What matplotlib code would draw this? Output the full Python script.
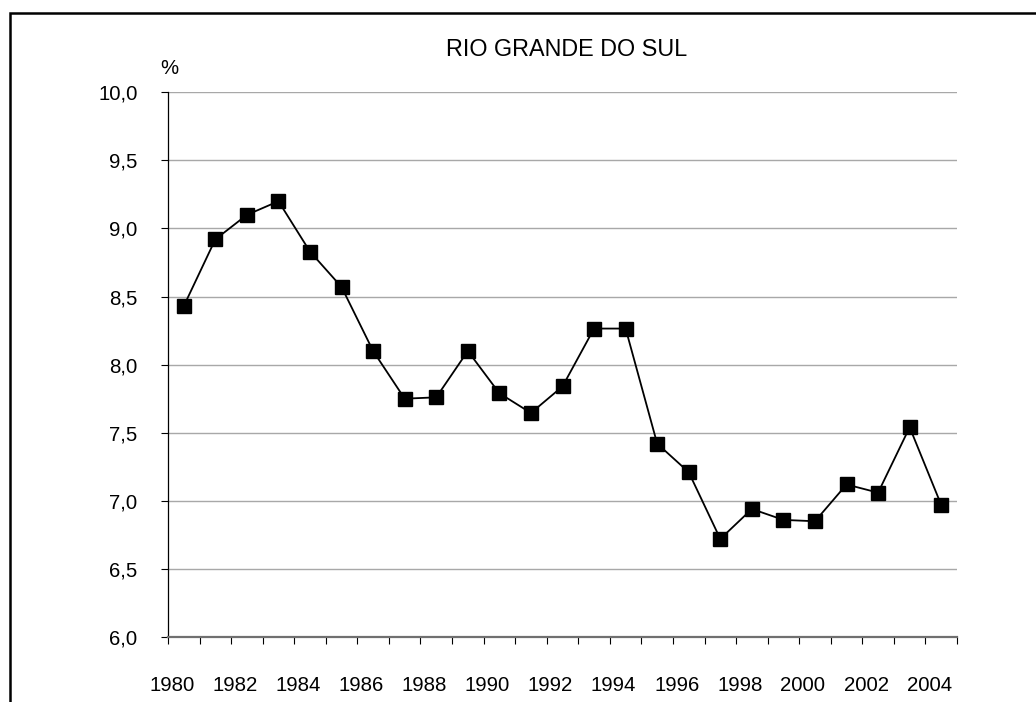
import matplotlib
matplotlib.use("Agg")
import matplotlib.pyplot as plt
import matplotlib.transforms as mtransforms
from matplotlib.patches import Rectangle
import numpy as np

plt.rcParams['font.family'] = ['Liberation Sans', 'DejaVu Sans']

years = list(range(1980, 2005))
values = [8.43, 8.92, 9.10, 9.20, 8.83, 8.57, 8.10, 7.75, 7.76, 8.10,
          7.79, 7.645, 7.84, 8.265, 8.265, 7.42, 7.21, 6.72, 6.94, 6.86,
          6.85, 7.12, 7.06, 7.54, 6.97]
y_ticks = [6.0, 6.5, 7.0, 7.5, 8.0, 8.5, 9.0, 9.5, 10.0]
y_labels = ["6,0", "6,5", "7,0", "7,5", "8,0", "8,5", "9,0", "9,5", "10,0"]
title = "RIO GRANDE DO SUL"
unit = "%"

W, H, DPI = 1036, 702, 100
fig = plt.figure(figsize=(W / DPI, H / DPI), dpi=DPI)
ax = fig.add_axes([168 / W, (H - 637) / H, (957 - 168) / W, (637 - 92.3) / H])

x = np.arange(len(years))
ax.plot(x, values, color='black', lw=1.3, marker='s', markersize=10.5,
        markerfacecolor='black', markeredgecolor='black', zorder=3, clip_on=False)

ax.set_xlim(-0.5, len(years) - 0.5)
ax.set_ylim(6.0, 10.0)

# y axis
ax.set_yticks(y_ticks)
ax.set_yticklabels(y_labels)
ax.tick_params(axis='y', direction='out', length=5, width=0.8, color='black',
               labelsize=14.7, pad=17)
ax.yaxis.grid(True, color='#a8a8a8', lw=1.0)
ax.set_axisbelow(True)

# x axis: boundary ticks as major, labels as minor
ax.set_xticks(np.arange(-0.5, len(years), 1.0))
ax.set_xticklabels([])
ax.tick_params(axis='x', which='major', direction='out', length=5, width=0.8,
               color='black')
ax.set_xticks(x[::2], minor=True)
ax.set_xticklabels([str(y) for y in years[::2]], minor=True)
ax.tick_params(axis='x', which='minor', length=0, labelsize=14.7, pad=28)
offset = mtransforms.ScaledTranslation(-12 / DPI, 0, fig.dpi_scale_trans)
for lbl in ax.xaxis.get_minorticklabels():
    lbl.set_transform(lbl.get_transform() + offset)

for s in ['top', 'right']:
    ax.spines[s].set_visible(False)
ax.spines['left'].set_color('black')
ax.spines['left'].set_linewidth(0.9)
ax.spines['bottom'].set_color('#707070')
ax.spines['bottom'].set_linewidth(1.6)

fig.text(566.5 / W, 1 - 50 / H, title, ha='center', va='center', fontsize=16.8)
fig.text(169 / W, 1 - 68 / H, unit, ha='center', va='center', fontsize=14.7)

# outer frame (extends past the right and bottom edges)
fig.patches.append(Rectangle((10 / W, -0.1), 1.2, 1 - 13 / H + 0.1,
                             transform=fig.transFigure, fill=False,
                             edgecolor='black', lw=1.8))

fig.savefig("out.png", dpi=DPI)
